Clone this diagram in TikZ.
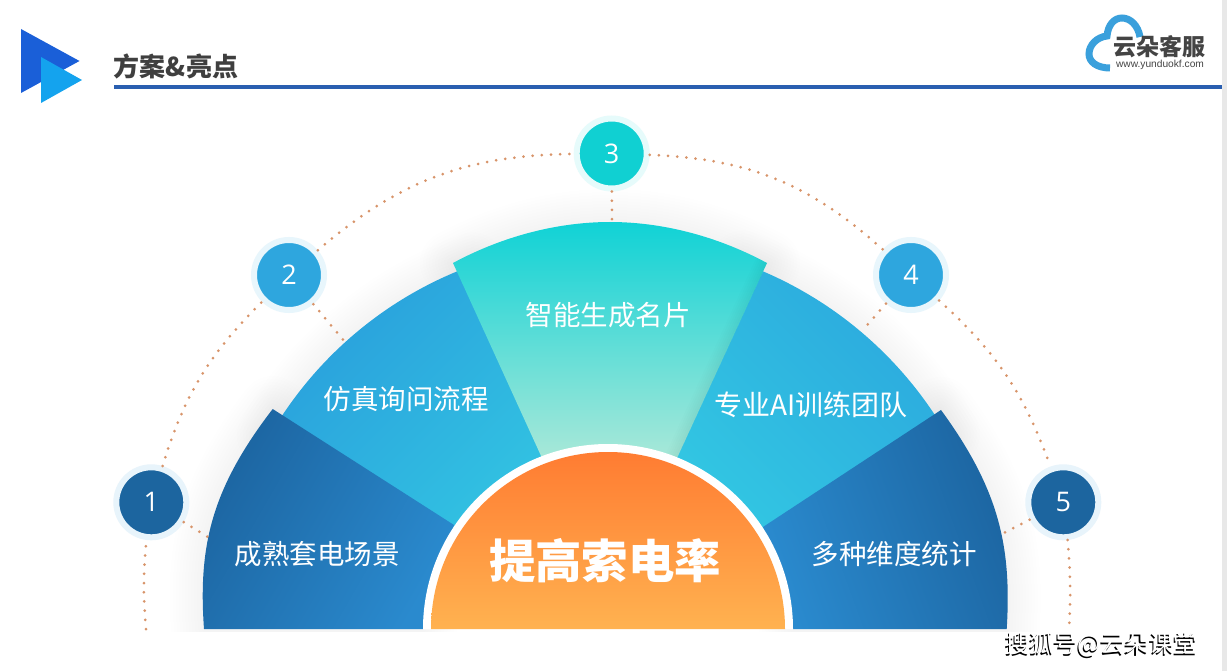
\documentclass[tikz,border=0pt]{standalone}
\usepackage{fontspec}
\setmainfont{Noto Sans CJK SC}
\newfontfamily\digitfont{Open Sans}
\newfontfamily\latinfont{Liberation Sans}
\begin{document}
\begin{tikzpicture}[x=1pt,y=-1pt,
  dots/.style={draw=dotc,line width=3pt,line cap=round,dash pattern=on 0pt off 9.2pt},
  numnode/.style={circle,minimum size=70pt,inner sep=0pt,line width=6pt,text=white,font=\digitfont\fontsize{27}{27}\selectfont},
  seglabel/.style={text=white,inner sep=0pt,font=\fontsize{27.5}{27.5}\selectfont},
  pathone/.style={insert path={(204,629) .. controls (198,545) and (212,488) .. (272.7,409) -- (454,525) -- (423,629) -- cycle}},
  pathfive/.style={insert path={(1006.7,629) .. controls (1012,545) and (998,488) .. (941,410) -- (763,527) -- (793,629) -- cycle}},
  pathtwo/.style={insert path={(605,629) ++(150:387pt) arc[start angle=150,end angle=110,radius=387pt] -- (560,500) -- (470,560) -- cycle}},
  pathfour/.style={insert path={(610,629) ++(30:389pt) arc[start angle=30,end angle=70,radius=389pt] -- (660,500) -- (750,560) -- cycle}},
  paththree/.style={insert path={(453,263) .. controls (505,235) and (560,222) .. (610,222) .. controls (660,222) and (715,235) .. (767,263) -- (677,458) -- (542,458) -- cycle}},
  softshadow/.style={draw=black,line join=round,opacity=.005},
]
\definecolor{dotc}{HTML}{D8946A}
\definecolor{deep}{HTML}{1C659F}
\definecolor{mid}{HTML}{2EA6DE}
\definecolor{teal}{HTML}{10D0D2}
\useasboundingbox (0,0) rectangle (1227,671);
\fill[white] (0,0) rectangle (1227,671);
\fill[gray!18] (1222,0) rectangle (1227,671);

% header
\fill[fill={rgb,255:red,26;green,95;blue,216}] (21,29) -- (79.5,61) -- (21,93) -- cycle;
\fill[fill={rgb,255:red,20;green,163;blue,238}] (41,57) -- (82,80) -- (41,103) -- cycle;
\node[text={rgb,255:red,63;green,63;blue,63},inner sep=0pt,font=\bfseries\fontsize{26}{26}\selectfont] (title) at (176,66) {方案\&亮点};
\fill[fill={rgb,255:red,42;green,95;blue,176}] (114,85) rectangle (1222,89);

% cloud logo
\draw[draw={rgb,255:red,58;green,160;blue,220},line width=7pt,line cap=butt]
  (1140,37) .. controls (1138,25) and (1130,18) .. (1122,18)
  .. controls (1114,18) and (1108,25) .. (1107,36)
  .. controls (1097,37) and (1089,45) .. (1089,54)
  .. controls (1089,62) and (1097,68) .. (1110,68);
\node[text={rgb,255:red,68;green,68;blue,68},inner sep=0pt,font=\bfseries\fontsize{23}{23}\selectfont] (brand) at (1159,47) {云朵客服};
\node[text={rgb,255:red,68;green,68;blue,68},inner sep=0pt,font=\latinfont\fontsize{10.2}{11}\selectfont] (site) at (1160,65) {www.yunduokf.com};

% soft shadows
\begin{scope}
\clip (0,0) rectangle (1222,631);
\foreach \w in {6,12,...,66}{
  \path[pathone,softshadow,line width=\w pt];
  \path[pathfive,softshadow,line width=\w pt];
  \path[pathtwo,softshadow,line width=\w pt];
  \path[pathfour,softshadow,line width=\w pt];
  \path[paththree,softshadow,line width=\w pt];
}
\end{scope}

% segments
\path[pathtwo,left color={rgb,255:red,42;green,160;blue,220},right color={rgb,255:red,52;green,205;blue,228},shading angle=45];
\path[pathfour,left color={rgb,255:red,52;green,208;blue,228},right color={rgb,255:red,44;green,170;blue,222},shading angle=135];
\path[pathone,left color={rgb,255:red,28;green,100;blue,160},right color={rgb,255:red,42;green,138;blue,206},shading angle=60];
\path[pathfive,left color={rgb,255:red,42;green,138;blue,206},right color={rgb,255:red,28;green,100;blue,160},shading angle=110];
\path[paththree,top color={rgb,255:red,16;green,210;blue,214},bottom color={rgb,255:red,168;green,232;blue,216}];
\begin{scope}
\clip[paththree];
\foreach \w in {4,8,...,24}{
  \draw[black,opacity=.008,line width=\w pt] (767,263) -- (677,458);
}
\end{scope}

% hub
\fill[white] (423,629) arc[start angle=180,end angle=0,radius=185pt] -- cycle;
\path[top color={rgb,255:red,255;green,124;blue,50},bottom color={rgb,255:red,255;green,178;blue,80}] (431,629) arc[start angle=180,end angle=0,radius=177pt] -- cycle;
\node[text=white,inner sep=0pt,font=\bfseries\fontsize{46.4}{46.4}\selectfont] (hub) at (605,561) {提高索电率};

% labels
\node[seglabel] (lab1) at (317,554) {成熟套电场景};
\node[seglabel] (lab2) at (406,399) {仿真询问流程};
\node[seglabel] (lab3) at (608,315) {智能生成名片};
\node[seglabel,font=\fontsize{28}{28}\selectfont] (lab4) at (811,405) {专业AI训练团队};
\node[seglabel] (lab5) at (894,554) {多种维度统计};

% numbered nodes
\node[numnode,fill=deep,draw={rgb,255:red,232;green,244;blue,251}] (n1) at (151.3,502.3) {1};
\node[numnode,fill=mid,draw={rgb,255:red,232;green,246;blue,252}] (n2) at (289,275) {2};
\node[numnode,fill=teal,draw={rgb,255:red,230;green,251;blue,251}] (n3) at (611.7,153.5) {3};
\node[numnode,fill=mid,draw={rgb,255:red,232;green,246;blue,252}] (n4) at (911,275) {4};
\node[numnode,fill=deep,draw={rgb,255:red,232;green,244;blue,251}] (n5) at (1063.3,502.3) {5};

\coordinate (endl) at (146,629);
\coordinate (endr) at (1069,629);
\coordinate (s1) at (208,537);
\coordinate (s2) at (345,342);
\coordinate (s3) at (612,222);
\coordinate (s4) at (862,331);
\coordinate (s5) at (1000,535);

% connectors
\draw[dots] (endl) to[bend left=5] (n1);
\draw[dots] (n1) to[bend left=14] (n2);
\draw[dots] (n2) to[bend left=20] (n3);
\draw[dots] (n3) to[bend left=20] (n4);
\draw[dots] (n4) to[bend left=14] (n5);
\draw[dots] (n5) to[bend left=4] (endr);
\draw[dots] (n1) -- (s1);
\draw[dots] (n2) -- (s2);
\draw[dots] (n3) -- (s3);
\draw[dots] (n4) -- (s4);
\draw[dots] (n5) -- (s5);

% watermark
\node[text=black,inner sep=0pt,font=\fontsize{24.2}{24.2}\selectfont] (wm) at (1100.3,646) {搜狐号@云朵课堂};
\node[text=white,inner sep=0pt,font=\fontsize{24.2}{24.2}\selectfont] (wm2) at (1101.5,644.7) {搜狐号@云朵课堂};
\end{tikzpicture}
\end{document}
